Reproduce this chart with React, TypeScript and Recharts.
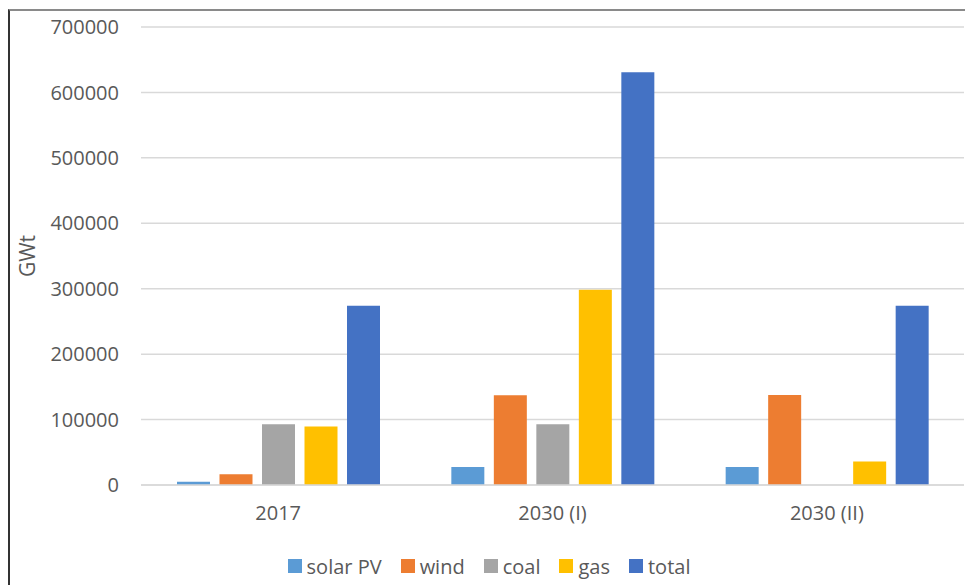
import React from 'react';
import { BarChart, Bar, XAxis, YAxis, CartesianGrid, Legend } from 'recharts';

const categories = ['2017', '2030 (I)', '2030 (II)'];
const solarPV = [5000, 27500, 27500];
const wind = [16500, 137000, 137500];
const coal = [93000, 93000, 0];
const gas = [89500, 298500, 36000];
const total = [274000, 631000, 274000];
const yTicks = [0, 100000, 200000, 300000, 400000, 500000, 600000, 700000];

const seriesNames = ['solar PV', 'wind', 'coal', 'gas', 'total'];
const seriesKeys = ['solar', 'wind', 'coal', 'gas', 'total'];
const seriesColors = ['#5B9BD5', '#ED7D31', '#A5A5A5', '#FFC000', '#4472C4'];

const data = categories.map((c, i) => ({
  name: c,
  solar: solarPV[i],
  wind: wind[i],
  coal: coal[i],
  gas: gas[i],
  total: total[i],
}));

const FONT = '"Open Sans", "Noto Sans", sans-serif';
const TEXT = '#595959';
const FS = 20;

const LegendContent = (props: any) => {
  const payload = [...(props.payload || [])].sort(
    (a: any, b: any) => seriesNames.indexOf(a.value) - seriesNames.indexOf(b.value)
  );
  return (
    <div
      style={{
        display: 'flex',
        justifyContent: 'center',
        alignItems: 'center',
        height: 24,
        paddingLeft: 4,
        fontFamily: FONT,
        fontSize: FS,
        color: TEXT,
      }}
    >
      {payload.map((p: any, i: number) => (
        <div key={i} style={{ display: 'flex', alignItems: 'center', marginRight: i < payload.length - 1 ? 19 : 0 }}>
          <span style={{ display: 'inline-block', width: 14, height: 14, background: p.color, marginRight: 5 }} />
          <span>{p.value}</span>
        </div>
      ))}
    </div>
  );
};

export default function App() {
  return (
    <div
      style={{
        position: 'fixed',
        top: 9,
        left: 8,
        width: 957,
        height: 576,
        boxSizing: 'border-box',
        borderTop: '2px solid #8a8a8a',
        borderLeft: '2px solid #333',
        overflow: 'hidden',
        background: '#fff',
      }}
    >
      <BarChart
        width={955}
        height={574}
        data={data}
        margin={{ top: 16, right: 1, left: 0, bottom: 7 }}
        barSize={33}
        barGap={9.5}
      >
        <CartesianGrid vertical={false} stroke="#d9d9d9" strokeWidth={1.5} />
        <XAxis
          dataKey="name"
          height={69}
          axisLine={{ stroke: '#d9d9d9', strokeWidth: 1.5 }}
          tickLine={false}
          tickSize={0}
          tickMargin={21}
          tick={{ fill: TEXT, fontSize: FS, fontFamily: FONT }}
        />
        <YAxis
          width={131}
          domain={[0, 700000]}
          ticks={yTicks}
          interval={0}
          axisLine={false}
          tickLine={false}
          tickSize={0}
          tickMargin={22}
          tick={{ fill: TEXT, fontSize: FS, fontFamily: FONT }}
          label={{
            value: 'GWt',
            angle: -90,
            position: 'center',
            dx: -48,
            style: { fill: TEXT, fontSize: 21, fontFamily: FONT },
          }}
        />
        <Legend verticalAlign="bottom" height={24} itemSorter={null as any} content={<LegendContent />} />
        {seriesKeys.map((k, i) => (
          <Bar key={k} dataKey={k} name={seriesNames[i]} fill={seriesColors[i]} isAnimationActive={false} />
        ))}
      </BarChart>
    </div>
  );
}
